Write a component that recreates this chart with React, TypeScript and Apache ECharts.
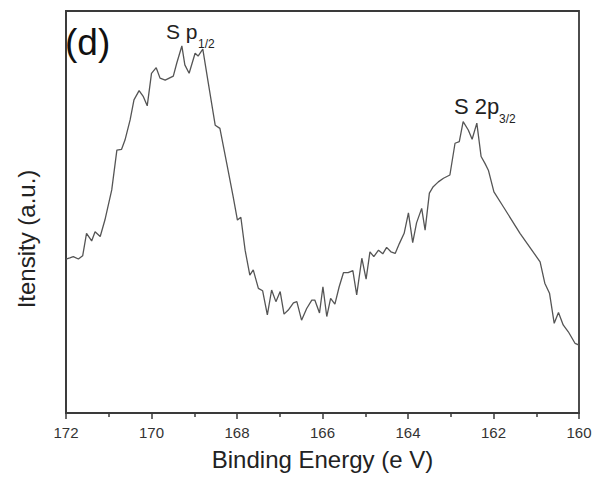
import React, { useEffect, useRef } from "react";
import * as echarts from "echarts";

// Binding energy (eV) and intensity (a.u.)
const energy: number[] = [
  172.0, 171.91, 171.83, 171.71, 171.61, 171.52, 171.4, 171.32, 171.2, 171.09,
  170.93, 170.81, 170.7, 170.62, 170.5, 170.41, 170.29, 170.19, 170.1, 170.0,
  169.89, 169.8, 169.68, 169.49, 169.41, 169.29, 169.22, 169.12, 168.98, 168.91,
  168.8, 168.67, 168.51, 168.4, 168.24, 168.09, 167.99, 167.91, 167.81, 167.7,
  167.62, 167.5, 167.4, 167.29, 167.19, 167.09, 166.99, 166.9, 166.8, 166.68,
  166.6, 166.49, 166.37, 166.25, 166.18, 166.07, 165.99, 165.9, 165.81, 165.71,
  165.61, 165.51, 165.4, 165.29, 165.2, 165.08, 164.98, 164.89, 164.8, 164.69,
  164.59, 164.5, 164.4, 164.3, 164.2, 164.09, 163.99, 163.89, 163.8, 163.68,
  163.6, 163.5, 163.41, 163.29, 163.17, 163.02, 162.9, 162.8, 162.71, 162.59,
  162.5, 162.39, 162.29, 162.2, 162.12, 161.99, 161.77, 161.38, 160.91, 160.8,
  160.69, 160.58, 160.48, 160.37, 160.25, 160.09, 160.0,
];
const intensity: number[] = [
  38.3, 38.6, 38.9, 38.3, 39.1, 44.7, 42.8, 45.1, 43.9, 48.0,
  55.5, 65.4, 65.6, 67.9, 72.9, 77.9, 80.2, 78.7, 76.4, 84.5,
  85.9, 83.3, 82.8, 83.8, 87.0, 91.3, 86.6, 84.5, 89.5, 88.8,
  90.5, 82.0, 71.6, 70.8, 62.1, 53.8, 48.0, 48.7, 40.5, 34.3,
  35.6, 31.0, 30.4, 24.4, 30.6, 27.7, 30.2, 24.6, 25.6, 27.4,
  27.7, 23.1, 26.0, 28.1, 28.1, 24.9, 31.4, 24.0, 28.5, 27.1,
  31.4, 34.9, 34.9, 35.4, 29.4, 38.5, 33.3, 40.1, 38.9, 40.5,
  39.6, 41.2, 40.1, 39.7, 42.2, 44.7, 49.8, 42.4, 47.3, 50.9,
  45.5, 54.7, 56.3, 57.5, 58.4, 59.2, 67.1, 67.5, 72.5, 70.4,
  68.1, 72.1, 63.8, 62.1, 60.4, 55.0, 51.3, 44.7, 37.6, 32.3,
  29.8, 22.3, 25.0, 21.9, 20.2, 17.3, 16.9,
];

const xTicks: number[] = [172, 170, 168, 166, 164, 162, 160];
const xTitle = "Binding Energy (e V)";
const yTitle = "Itensity (a.u.)";
const panelLabel = "(d)";
const peak1 = { main: "S p", sub: "1/2" };
const peak2 = { main: "S 2p", sub: "3/2" };

const FONT = "'Liberation Sans', Arial, sans-serif";

export default function App() {
  const ref = useRef<HTMLDivElement>(null);
  useEffect(() => {
    if (!ref.current) return;
    const chart = echarts.init(ref.current, undefined, { renderer: "svg" });
    const data = energy.map((e, i) => [e, intensity[i]]);
    chart.setOption({
      animation: false,
      backgroundColor: "#ffffff",
      grid: {
        left: 66,
        right: 19,
        top: 11,
        bottom: 66,
        show: true,
        borderColor: "#3a3a3a",
        borderWidth: 1.8,
      },
      xAxis: {
        type: "value",
        inverse: true,
        min: 160,
        max: 172,
        interval: 2,
        name: xTitle,
        nameLocation: "middle",
        nameGap: 34,
        nameTextStyle: { fontFamily: FONT, fontSize: 24, color: "#222" },
        axisLine: { show: true, lineStyle: { color: "#3a3a3a", width: 1.8 } },
        axisTick: { show: true, inside: false, length: 6, lineStyle: { color: "#3a3a3a", width: 1.5 } },
        minorTick: { show: true, splitNumber: 2, length: 4, lineStyle: { color: "#3a3a3a", width: 1.5 } },
        axisLabel: {
          fontFamily: FONT,
          fontSize: 15,
          color: "#333",
          margin: 12,
          formatter: (v: number) => (xTicks.includes(v) ? String(v) : ""),
        },
        splitLine: { show: false },
      },
      yAxis: {
        type: "value",
        min: 0,
        max: 100,
        axisLine: { show: true, lineStyle: { color: "#3a3a3a", width: 1.8 } },
        axisTick: { show: false },
        axisLabel: { show: false },
        splitLine: { show: false },
      },
      series: [
        {
          type: "line",
          data,
          showSymbol: false,
          symbol: "none",
          lineStyle: { color: "#555", width: 1.3 },
        },
      ],
      graphic: [
        {
          type: "text",
          x: 26,
          y: 239,
          rotation: Math.PI / 2,
          style: { text: yTitle, font: `24px ${FONT}`, fill: "#222", textAlign: "center", textVerticalAlign: "middle" },
        },
        {
          type: "text",
          x: 65,
          y: 42,
          style: { text: panelLabel, font: `37px ${FONT}`, fill: "#111", textAlign: "left", textVerticalAlign: "middle" },
        },
        {
          type: "text",
          x: 166,
          y: 31,
          style: { text: peak1.main, font: `21px ${FONT}`, fill: "#222", textAlign: "left", textVerticalAlign: "middle" },
        },
        {
          type: "text",
          x: 198,
          y: 44,
          style: { text: peak1.sub, font: `12px ${FONT}`, fill: "#222", textAlign: "left", textVerticalAlign: "middle" },
        },
        {
          type: "text",
          x: 454,
          y: 106,
          style: { text: peak2.main, font: `22px ${FONT}`, fill: "#222", textAlign: "left", textVerticalAlign: "middle" },
        },
        {
          type: "text",
          x: 499,
          y: 119,
          style: { text: peak2.sub, font: `12px ${FONT}`, fill: "#222", textAlign: "left", textVerticalAlign: "middle" },
        },
      ],
    });
    return () => chart.dispose();
  }, []);
  return <div ref={ref} style={{ width: 598, height: 479, position: "absolute", left: 0, top: 0 }} />;
}
